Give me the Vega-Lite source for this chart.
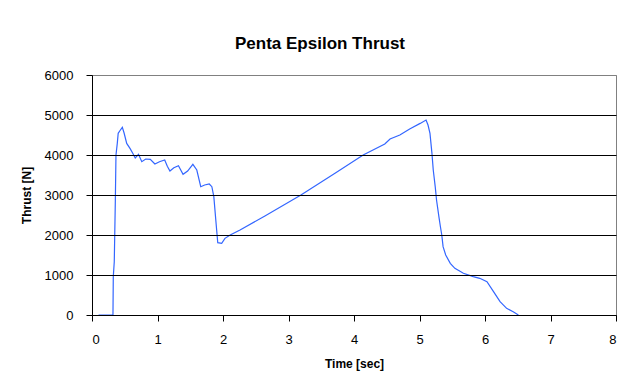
{
  "$schema": "https://vega.github.io/schema/vega-lite/v6.json",
  "width": 524,
  "height": 240,
  "autosize": {"type": "none"},
  "padding": {"left": 92, "top": 75, "right": 22, "bottom": 75},
  "background": "white",
  "title": {
    "text": "Penta Epsilon Thrust",
    "font": "Liberation Sans",
    "fontSize": 17,
    "fontWeight": "bold",
    "color": "black",
    "anchor": "middle",
    "dx": -34,
    "offset": 16
  },
  "data": {
    "values": [
      {"t": 0.10, "thrust": 0},
      {"t": 0.32, "thrust": 0},
      {"t": 0.325, "thrust": 957},
      {"t": 0.34, "thrust": 1333},
      {"t": 0.356, "thrust": 2833},
      {"t": 0.366, "thrust": 4000},
      {"t": 0.386, "thrust": 4292},
      {"t": 0.40, "thrust": 4542},
      {"t": 0.423, "thrust": 4600},
      {"t": 0.463, "thrust": 4690},
      {"t": 0.49, "thrust": 4550},
      {"t": 0.53, "thrust": 4290},
      {"t": 0.58, "thrust": 4165},
      {"t": 0.62, "thrust": 4050},
      {"t": 0.66, "thrust": 3925},
      {"t": 0.71, "thrust": 4017},
      {"t": 0.76, "thrust": 3833},
      {"t": 0.82, "thrust": 3900},
      {"t": 0.89, "thrust": 3890},
      {"t": 0.96, "thrust": 3775},
      {"t": 1.03, "thrust": 3830},
      {"t": 1.11, "thrust": 3875},
      {"t": 1.15, "thrust": 3720},
      {"t": 1.19, "thrust": 3600},
      {"t": 1.25, "thrust": 3680},
      {"t": 1.32, "thrust": 3733},
      {"t": 1.39, "thrust": 3517},
      {"t": 1.46, "thrust": 3600},
      {"t": 1.54, "thrust": 3767},
      {"t": 1.60, "thrust": 3625},
      {"t": 1.66, "thrust": 3208},
      {"t": 1.72, "thrust": 3250},
      {"t": 1.79, "thrust": 3275},
      {"t": 1.83, "thrust": 3208},
      {"t": 1.86, "thrust": 2958},
      {"t": 1.89, "thrust": 2375},
      {"t": 1.92, "thrust": 1808},
      {"t": 1.98, "thrust": 1792},
      {"t": 2.03, "thrust": 1917},
      {"t": 2.11, "thrust": 2000},
      {"t": 2.26, "thrust": 2125},
      {"t": 2.64, "thrust": 2475},
      {"t": 3.19, "thrust": 3000},
      {"t": 3.71, "thrust": 3542},
      {"t": 4.14, "thrust": 4000},
      {"t": 4.47, "thrust": 4275},
      {"t": 4.55, "thrust": 4400},
      {"t": 4.70, "thrust": 4500},
      {"t": 4.85, "thrust": 4650},
      {"t": 5.01, "thrust": 4790},
      {"t": 5.10, "thrust": 4875},
      {"t": 5.13, "thrust": 4750},
      {"t": 5.16, "thrust": 4540},
      {"t": 5.19, "thrust": 4040},
      {"t": 5.21, "thrust": 3625},
      {"t": 5.24, "thrust": 3208},
      {"t": 5.26, "thrust": 2875},
      {"t": 5.30, "thrust": 2417},
      {"t": 5.32, "thrust": 2200},
      {"t": 5.34, "thrust": 2000},
      {"t": 5.36, "thrust": 1708},
      {"t": 5.40, "thrust": 1500},
      {"t": 5.47, "thrust": 1292},
      {"t": 5.54, "thrust": 1167},
      {"t": 5.67, "thrust": 1042},
      {"t": 5.82, "thrust": 958},
      {"t": 5.92, "thrust": 917},
      {"t": 6.03, "thrust": 833},
      {"t": 6.13, "thrust": 583},
      {"t": 6.23, "thrust": 333},
      {"t": 6.33, "thrust": 167},
      {"t": 6.43, "thrust": 83},
      {"t": 6.51, "thrust": 0}
    ]
  },
  "mark": {"type": "line", "color": "#3366ff", "strokeWidth": 1.2, "clip": true},
  "encoding": {
    "x": {
      "field": "t",
      "type": "quantitative",
      "scale": {"domain": [0, 8], "nice": false, "zero": false},
      "axis": {
        "title": "Time [sec]",
        "values": [0, 1, 2, 3, 4, 5, 6, 7, 8],
        "grid": false,
        "tickSize": 6,
        "labelPadding": 12,
        "titlePadding": 12,
        "zindex": 1
      }
    },
    "y": {
      "field": "thrust",
      "type": "quantitative",
      "scale": {"domain": [0, 6000], "nice": false},
      "axis": {
        "title": "Thrust [N]",
        "values": [0, 1000, 2000, 3000, 4000, 5000, 6000],
        "format": "d",
        "grid": true,
        "gridColor": {"condition": {"test": "datum.value == 6000", "value": "#808080"}, "value": "black"},
        "gridOpacity": 1,
        "gridWidth": 1,
        "tickSize": 6,
        "labelPadding": 13,
        "titlePadding": 11,
        "zindex": 1
      }
    }
  },
  "config": {
    "view": {"stroke": "#808080", "strokeWidth": 1, "fill": "white"},
    "axis": {
      "domainColor": "black",
      "domainWidth": 1,
      "tickColor": "black",
      "tickWidth": 1,
      "labelFont": "Liberation Sans",
      "labelFontSize": 13,
      "labelColor": "black",
      "titleFont": "Liberation Sans",
      "titleFontSize": 12,
      "titleFontWeight": "bold",
      "titleColor": "black"
    }
  }
}
